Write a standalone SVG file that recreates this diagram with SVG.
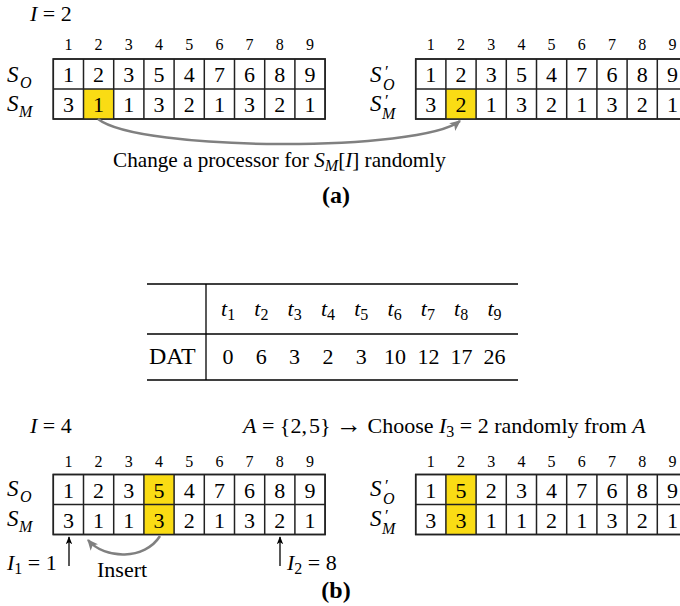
<svg xmlns="http://www.w3.org/2000/svg" width="680" height="606" viewBox="0 0 680 606" font-family="'Liberation Serif','DejaVu Serif','Noto Serif',serif">
<defs>
<style>
text{font-family:'Liberation Serif','DejaVu Serif','Noto Serif',serif;fill:#000}
.h{font-size:16px;text-anchor:middle}
.d{font-size:22px;text-anchor:middle}
.t{font-size:22px}
.it{font-style:italic}
.sub{font-size:16px;font-style:italic}
.subn{font-size:16px;font-style:normal}
.pr{font-size:17px;font-style:normal}
.S{font-size:23px;font-style:italic}
.grid{fill:#fff;stroke:#222;stroke-width:1.5}
.gl{fill:none;stroke:#222;stroke-width:1.5}
.hl{fill:#FADC14}
.b{font-size:24px;font-weight:bold;text-anchor:middle}
.rule{stroke:#000;stroke-width:1.6;fill:none}
.garrow{fill:none;stroke:#808080;stroke-width:2.5}
.karrow{fill:none;stroke:#000;stroke-width:1.3}
</style>
<marker id="gh" viewBox="0 0 10 10" refX="9" refY="5" markerWidth="11" markerHeight="11" markerUnits="userSpaceOnUse" orient="auto">
<path d="M0,0.5 L10,5 L0,9.5 L2.5,5 z" fill="#808080"/>
</marker>
<marker id="kh" viewBox="0 0 10 10" refX="9" refY="5" markerWidth="8" markerHeight="8" markerUnits="userSpaceOnUse" orient="auto">
<path d="M0,1 L10,5 L0,9 L2.5,5 z" fill="#000"/>
</marker>
</defs>
<rect width="680" height="606" fill="#fff"/>

<g id="label-I2"><text class="t" x="30" y="21"><tspan class="it">I</tspan> = 2</text></g>

<g id="grid-a-left">
<text class="h" x="68.4" y="50">1</text><text class="h" x="98.6" y="50">2</text><text class="h" x="128.8" y="50">3</text><text class="h" x="159" y="50">4</text><text class="h" x="189.2" y="50">5</text><text class="h" x="219.4" y="50">6</text><text class="h" x="249.6" y="50">7</text><text class="h" x="279.8" y="50">8</text><text class="h" x="310" y="50">9</text>
<text class="S" x="7" y="82">S<tspan class="sub" x="20" y="88">O</tspan></text>
<text class="S" x="7" y="111">S<tspan class="sub" x="19" y="117">M</tspan></text>
<rect class="grid" x="53.3" y="59" width="271.8" height="60"/>
<rect class="hl" x="83.5" y="89" width="30.2" height="30"/>
<path class="gl" d="M83.5 59V119M113.7 59V119M143.9 59V119M174.1 59V119M204.3 59V119M234.5 59V119M264.7 59V119M294.9 59V119M53.3 89H325.1M53.3 59H325.1V119H53.3Z"/>
<text class="d" x="68.4" y="82">1</text><text class="d" x="98.6" y="82">2</text><text class="d" x="128.8" y="82">3</text><text class="d" x="159" y="82">5</text><text class="d" x="189.2" y="82">4</text><text class="d" x="219.4" y="82">7</text><text class="d" x="249.6" y="82">6</text><text class="d" x="279.8" y="82">8</text><text class="d" x="310" y="82">9</text>
<text class="d" x="68.4" y="112">3</text><text class="d" x="98.6" y="112">1</text><text class="d" x="128.8" y="112">1</text><text class="d" x="159" y="112">3</text><text class="d" x="189.2" y="112">2</text><text class="d" x="219.4" y="112">1</text><text class="d" x="249.6" y="112">3</text><text class="d" x="279.8" y="112">2</text><text class="d" x="310" y="112">1</text>
</g>

<g id="grid-a-right">
<text class="h" x="430.8" y="50">1</text><text class="h" x="461" y="50">2</text><text class="h" x="491.2" y="50">3</text><text class="h" x="521.4" y="50">4</text><text class="h" x="551.6" y="50">5</text><text class="h" x="581.8" y="50">6</text><text class="h" x="612" y="50">7</text><text class="h" x="642.2" y="50">8</text><text class="h" x="672.4" y="50">9</text>
<text class="S" x="370" y="82">S<tspan class="pr" x="385" y="77">′</tspan><tspan class="sub" x="383" y="90">O</tspan></text>
<text class="S" x="370" y="111">S<tspan class="pr" x="385" y="106">′</tspan><tspan class="sub" x="382" y="119">M</tspan></text>
<rect class="grid" x="415.7" y="59" width="271.8" height="60"/>
<rect class="hl" x="445.9" y="89" width="30.2" height="30"/>
<path class="gl" d="M445.9 59V119M476.1 59V119M506.3 59V119M536.5 59V119M566.7 59V119M596.9 59V119M627.1 59V119M657.3 59V119M415.7 89H687.5M415.7 59H687.5V119H415.7Z"/>
<text class="d" x="430.8" y="82">1</text><text class="d" x="461" y="82">2</text><text class="d" x="491.2" y="82">3</text><text class="d" x="521.4" y="82">5</text><text class="d" x="551.6" y="82">4</text><text class="d" x="581.8" y="82">7</text><text class="d" x="612" y="82">6</text><text class="d" x="642.2" y="82">8</text><text class="d" x="672.4" y="82">9</text>
<text class="d" x="430.8" y="112">3</text><text class="d" x="461" y="112">2</text><text class="d" x="491.2" y="112">1</text><text class="d" x="521.4" y="112">3</text><text class="d" x="551.6" y="112">2</text><text class="d" x="581.8" y="112">1</text><text class="d" x="612" y="112">3</text><text class="d" x="642.2" y="112">2</text><text class="d" x="672.4" y="112">1</text>
</g>

<g id="caption-a">
<text class="t" x="113" y="167" style="font-size:21.2px">Change a processor for <tspan class="it">S</tspan><tspan class="sub" dy="4">M</tspan><tspan dy="-4">[</tspan><tspan class="it">I</tspan>] randomly</text>
<text class="b" x="336" y="203">(a)</text>
</g>

<g id="table">
<path class="rule" d="M147 284H518M147 380H518"/>
<path d="M147 334H518" stroke="#000" stroke-width="1.3" fill="none"/>
<path d="M206 284V380" stroke="#000" stroke-width="1.3" fill="none"/>
<text class="t it" x="221" y="316">t<tspan class="subn" dy="4">1</tspan></text>
<text class="t it" x="254.3" y="316">t<tspan class="subn" dy="4">2</tspan></text>
<text class="t it" x="287.6" y="316">t<tspan class="subn" dy="4">3</tspan></text>
<text class="t it" x="320.9" y="316">t<tspan class="subn" dy="4">4</tspan></text>
<text class="t it" x="354.2" y="316">t<tspan class="subn" dy="4">5</tspan></text>
<text class="t it" x="387.5" y="316">t<tspan class="subn" dy="4">6</tspan></text>
<text class="t it" x="420.8" y="316">t<tspan class="subn" dy="4">7</tspan></text>
<text class="t it" x="454.1" y="316">t<tspan class="subn" dy="4">8</tspan></text>
<text class="t it" x="487.4" y="316">t<tspan class="subn" dy="4">9</tspan></text>
<text class="t" x="149" y="364" style="font-size:24px">DAT</text>
<text class="d" x="228" y="364">0</text><text class="d" x="261.3" y="364">6</text><text class="d" x="294.6" y="364">3</text><text class="d" x="327.9" y="364">2</text><text class="d" x="361.2" y="364">3</text><text class="d" x="395" y="364">10</text><text class="d" x="428.5" y="364">12</text><text class="d" x="461.5" y="364">17</text><text class="d" x="494.4" y="364">26</text>
</g>

<g id="label-b-top">
<text class="t" x="30" y="433"><tspan class="it">I</tspan> = 4</text>
<text class="t" x="243" y="433"><tspan class="it">A</tspan> = {2,<tspan dx="2">5</tspan>} <tspan style="font-size:26px">→</tspan> Choose <tspan class="it">I</tspan><tspan class="subn" dy="4">3</tspan><tspan dy="-4"> = 2 randomly from </tspan><tspan class="it">A</tspan></text>
</g>

<g id="grid-b-left">
<text class="h" x="68.4" y="467">1</text><text class="h" x="98.6" y="467">2</text><text class="h" x="128.8" y="467">3</text><text class="h" x="159" y="467">4</text><text class="h" x="189.2" y="467">5</text><text class="h" x="219.4" y="467">6</text><text class="h" x="249.6" y="467">7</text><text class="h" x="279.8" y="467">8</text><text class="h" x="310" y="467">9</text>
<text class="S" x="7" y="496">S<tspan class="sub" x="20" y="502">O</tspan></text>
<text class="S" x="7" y="525.5">S<tspan class="sub" x="19" y="531.5">M</tspan></text>
<rect class="grid" x="53.3" y="474.5" width="271.8" height="60"/>
<rect class="hl" x="143.9" y="474.5" width="30.2" height="60"/>
<path class="gl" d="M83.5 474.5V534.5M113.7 474.5V534.5M143.9 474.5V534.5M174.1 474.5V534.5M204.3 474.5V534.5M234.5 474.5V534.5M264.7 474.5V534.5M294.9 474.5V534.5M53.3 504.5H325.1M53.3 474.5H325.1V534.5H53.3Z"/>
<text class="d" x="68.4" y="497.5">1</text><text class="d" x="98.6" y="497.5">2</text><text class="d" x="128.8" y="497.5">3</text><text class="d" x="159" y="497.5">5</text><text class="d" x="189.2" y="497.5">4</text><text class="d" x="219.4" y="497.5">7</text><text class="d" x="249.6" y="497.5">6</text><text class="d" x="279.8" y="497.5">8</text><text class="d" x="310" y="497.5">9</text>
<text class="d" x="68.4" y="527.5">3</text><text class="d" x="98.6" y="527.5">1</text><text class="d" x="128.8" y="527.5">1</text><text class="d" x="159" y="527.5">3</text><text class="d" x="189.2" y="527.5">2</text><text class="d" x="219.4" y="527.5">1</text><text class="d" x="249.6" y="527.5">3</text><text class="d" x="279.8" y="527.5">2</text><text class="d" x="310" y="527.5">1</text>
</g>

<g id="grid-b-right">
<text class="h" x="430.8" y="467">1</text><text class="h" x="461" y="467">2</text><text class="h" x="491.2" y="467">3</text><text class="h" x="521.4" y="467">4</text><text class="h" x="551.6" y="467">5</text><text class="h" x="581.8" y="467">6</text><text class="h" x="612" y="467">7</text><text class="h" x="642.2" y="467">8</text><text class="h" x="672.4" y="467">9</text>
<text class="S" x="370" y="496">S<tspan class="pr" x="385" y="491">′</tspan><tspan class="sub" x="383" y="504">O</tspan></text>
<text class="S" x="370" y="525.5">S<tspan class="pr" x="385" y="520.5">′</tspan><tspan class="sub" x="382" y="533.5">M</tspan></text>
<rect class="grid" x="415.7" y="474.5" width="271.8" height="60"/>
<rect class="hl" x="445.9" y="474.5" width="30.2" height="60"/>
<path class="gl" d="M445.9 474.5V534.5M476.1 474.5V534.5M506.3 474.5V534.5M536.5 474.5V534.5M566.7 474.5V534.5M596.9 474.5V534.5M627.1 474.5V534.5M657.3 474.5V534.5M415.7 504.5H687.5M415.7 474.5H687.5V534.5H415.7Z"/>
<text class="d" x="430.8" y="497.5">1</text><text class="d" x="461" y="497.5">5</text><text class="d" x="491.2" y="497.5">2</text><text class="d" x="521.4" y="497.5">3</text><text class="d" x="551.6" y="497.5">4</text><text class="d" x="581.8" y="497.5">7</text><text class="d" x="612" y="497.5">6</text><text class="d" x="642.2" y="497.5">8</text><text class="d" x="672.4" y="497.5">9</text>
<text class="d" x="430.8" y="527.5">3</text><text class="d" x="461" y="527.5">3</text><text class="d" x="491.2" y="527.5">1</text><text class="d" x="521.4" y="527.5">1</text><text class="d" x="551.6" y="527.5">2</text><text class="d" x="581.8" y="527.5">1</text><text class="d" x="612" y="527.5">3</text><text class="d" x="642.2" y="527.5">2</text><text class="d" x="672.4" y="527.5">1</text>
</g>

<g id="labels-b-bottom">
<text class="t" x="7" y="570"><tspan class="it">I</tspan><tspan class="subn" dy="4">1</tspan><tspan dy="-4"> = 1</tspan></text>
<text class="t" x="97" y="577">Insert</text>
<text class="t" x="287" y="570"><tspan class="it">I</tspan><tspan class="subn" dy="4">2</tspan><tspan dy="-4"> = 8</tspan></text>
<text class="b" x="336" y="598">(b)</text>
</g>

<g id="connectors">
<path class="garrow" d="M98 119C140 152 420 152 460 121" marker-end="url(#gh)"/>
<path class="garrow" d="M160 536C145 560 105 560 88 540" marker-end="url(#gh)"/>
<path class="karrow" d="M69 566V537" marker-end="url(#kh)"/>
<path class="karrow" d="M280 566V537" marker-end="url(#kh)"/>
</g>
</svg>
